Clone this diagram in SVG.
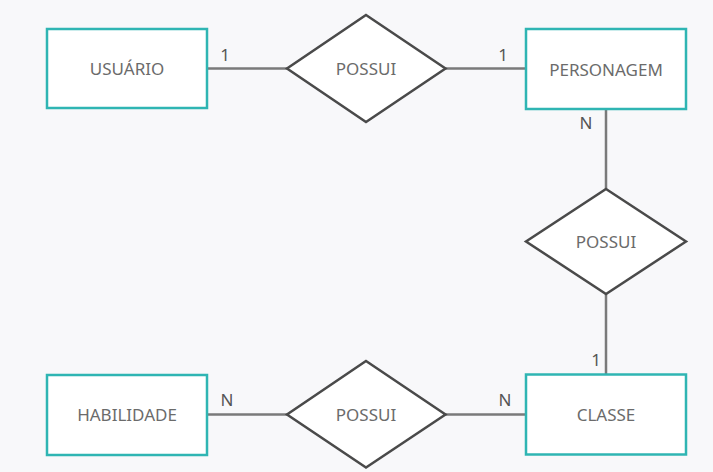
<svg xmlns="http://www.w3.org/2000/svg" width="713" height="472" viewBox="0 0 713 472">
<style>
.ent{fill:#ffffff;stroke:#2fb5b3;stroke-width:2.5}
.rel{fill:#ffffff;stroke:#4a4a4a;stroke-width:2.5;stroke-linejoin:miter}
.lbl{font-family:"Noto Sans","Open Sans",sans-serif;font-size:17px;fill:#6b6b6b;text-anchor:middle;dominant-baseline:central}
.card{font-family:"Noto Sans","Open Sans",sans-serif;font-size:17px;fill:#555555;text-anchor:middle}
.con{stroke:#7a7a7a;stroke-width:2.5;fill:none}
</style>
<rect width="713" height="472" fill="#f8f8fa"/>
<g id="connectors">
<line class="con" x1="207" y1="68.5" x2="287" y2="68.5"/>
<line class="con" x1="445" y1="68.5" x2="526" y2="68.5"/>
<line class="con" x1="606" y1="109" x2="606" y2="189"/>
<line class="con" x1="606" y1="294" x2="606" y2="374"/>
<line class="con" x1="207" y1="414.5" x2="287" y2="414.5"/>
<line class="con" x1="445" y1="414.5" x2="526" y2="414.5"/>
<text class="card" x="225" y="61">1</text>
<text class="card" x="503" y="61">1</text>
<text class="card" x="586" y="129">N</text>
<text class="card" x="596" y="366">1</text>
<text class="card" x="227" y="406">N</text>
<text class="card" x="505" y="406">N</text>
</g>
<g id="usuario">
<rect class="ent" x="47" y="29" width="160" height="79"/>
<text class="lbl" x="127" y="68.5">USUÁRIO</text>
</g>
<g id="personagem">
<rect class="ent" x="526" y="29" width="160" height="80"/>
<text class="lbl" x="606" y="69">PERSONAGEM</text>
</g>
<g id="classe">
<rect class="ent" x="526" y="374.5" width="160" height="80"/>
<text class="lbl" x="606" y="414.5">CLASSE</text>
</g>
<g id="habilidade">
<rect class="ent" x="47" y="375" width="160" height="80"/>
<text class="lbl" x="127" y="414.5">HABILIDADE</text>
</g>
<g id="possui1">
<polygon class="rel" points="366,15 445.5,68.5 366,122 287,68.5"/>
<text class="lbl" x="366" y="68.5">POSSUI</text>
</g>
<g id="possui2">
<polygon class="rel" points="606,189 686,241.5 606,294 526,241.5"/>
<text class="lbl" x="606" y="241.5">POSSUI</text>
</g>
<g id="possui3">
<polygon class="rel" points="366,361 445.5,414.5 366,467.5 287,414.5"/>
<text class="lbl" x="366" y="414.5">POSSUI</text>
</g>
</svg>
